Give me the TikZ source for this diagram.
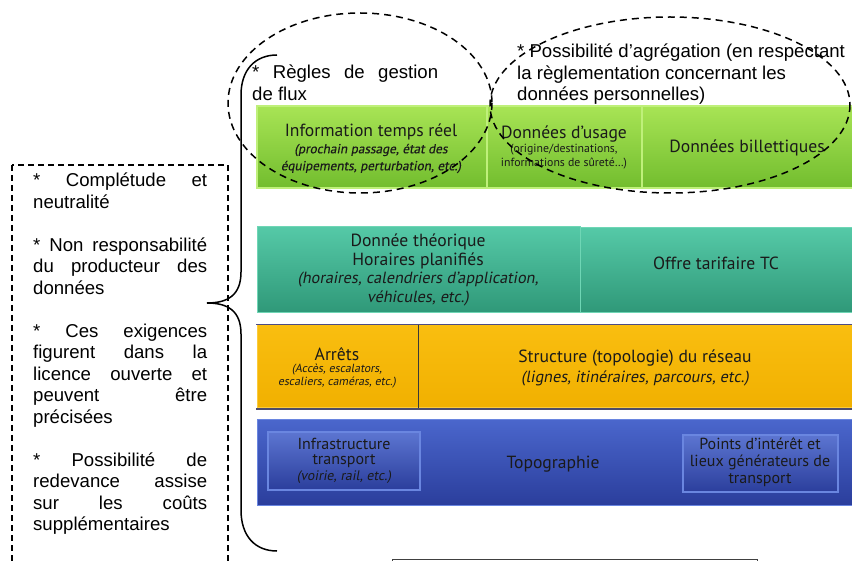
\documentclass[tikz,border=0pt]{standalone}
\usepackage{fontspec}
\setmainfont{Liberation Sans}
\newfontfamily\rowfont{PT Sans}
\newfontfamily\rowobl[FakeSlant=0.18]{PT Sans}
\newfontfamily\rowoblb[FakeSlant=0.18,FakeBold=0.4]{PT Sans}
\definecolor{grT}{HTML}{A8E455}
\definecolor{grB}{HTML}{72BD2E}
\definecolor{grE}{HTML}{BFF07A}
\definecolor{tlT}{HTML}{55C9A7}
\definecolor{tlB}{HTML}{2F9878}
\definecolor{tlE}{HTML}{6FD6B5}
\definecolor{orT}{HTML}{F9BE10}
\definecolor{orB}{HTML}{F1B000}
\definecolor{orE}{HTML}{FBCB3A}
\definecolor{blT}{HTML}{4A66CC}
\definecolor{blB}{HTML}{2B3E9C}
\definecolor{blE}{HTML}{6A86E0}
\definecolor{txt}{HTML}{1A1A1A}
\tikzset{
  dsh/.style={draw=black, line width=1.5pt, dash pattern=on 7pt off 5pt},
  brace/.style={draw=black, line width=1.5pt},
  lab/.style={inner sep=0pt, text=black, font=\fontsize{18.6}{21.5}\selectfont},
  rt/.style={inner sep=0pt, text=txt, font=\rowfont\fontsize{17.6}{19}\selectfont},
  rs/.style={inner sep=0pt, text=txt, font=\rowobl\fontsize{16.2}{16}\selectfont},
  rss/.style={inner sep=0pt, text=txt, font=\rowoblb\fontsize{13.2}{12}\selectfont},
  rsu/.style={inner sep=0pt, text=txt, font=\rowfont\fontsize{11.8}{12}\selectfont},
  bt/.style={inner sep=0pt, text=txt, font=\rowfont\fontsize{16}{17}\selectfont},
}
\newcommand{\jl}[1]{\makebox[174pt][s]{#1}}
\begin{document}
\begin{tikzpicture}[x=1pt,y=-1pt]
\useasboundingbox (0,0) rectangle (852,561);
\clip (0,0) rectangle (852,561);

% ---- green row
\shadedraw[top color=grT, bottom color=grB, draw=grE, line width=1.2pt] (257,106) rectangle (487,188);
\shadedraw[top color=grT, bottom color=grB, draw=grE, line width=1.2pt] (487,106) rectangle (642,188);
\shadedraw[top color=grT, bottom color=grB, draw=grE, line width=1.2pt] (642,106) rectangle (856,188);
\node[rt] (itr) at (371,132) {Information temps réel};
\node[rss] (itr1) at (371,150) {(prochain passage, état des};
\node[rss] (itr2) at (371,167) {équipements, perturbation, etc.)};
\node[rt] (du) at (564,134) {Données d’usage};
\node[rsu] (du1) at (564,150) {(origine/destinations,};
\node[rsu] (du2) at (564,163) {informations de sûreté…)};
\node[rt] (db) at (747,148) {Données billettiques};

% ---- teal row
\shadedraw[top color=tlT, bottom color=tlB, draw=tlE, line width=1pt] (257,227) rectangle (580,313);
\shadedraw[top color=tlT, bottom color=tlB, draw=tlE, line width=1pt] (580,228) rectangle (856,313);
\node[rt] (dt) at (418,242) {Donnée théorique};
\node[rt] (hp) at (418,261) {Horaires planifiés};
\node[rs] (hp1) at (418,280) {(horaires, calendriers d’application,};
\node[rs] (hp2) at (418,298) {véhicules, etc.)};
\node[rt] (otc) at (716,263) {Offre tarifaire TC};

% ---- orange row
\shadedraw[top color=orT, bottom color=orB, draw=orE, line width=1pt] (257,325) rectangle (418,408);
\shadedraw[top color=orT, bottom color=orB, draw=orE, line width=1pt] (418,325) rectangle (856,408);
\draw[draw=black!45!blue!40!gray, line width=0.8pt] (256,324.5) -- (856,324.5);
\draw[draw=black!55!gray, line width=0.8pt] (418,325) -- (418,408);
\draw[draw=black!70!blue!40!gray, line width=2pt] (256,409) -- (856,409);
\node[rt] (ar) at (337,354) {Arrêts};
\node[rs, font=\rowobl\fontsize{11.8}{12}\selectfont] (ar1) at (337,370) {(Accès, escalators,};
\node[rs, font=\rowobl\fontsize{11.8}{12}\selectfont] (ar2) at (337,383) {escaliers, caméras, etc.)};
\node[rt] (st) at (635,358) {Structure (topologie) du réseau};
\node[rs] (st1) at (635,378) {(lignes, itinéraires, parcours, etc.)};

% ---- blue row
\shadedraw[top color=blT, bottom color=blB, draw=blE, line width=1pt] (257,420) rectangle (856,505);
\shadedraw[top color=blT!90!white, bottom color=blB, draw=blE, line width=1.2pt] (268,432) rectangle (420,490);
\shadedraw[top color=blT!90!white, bottom color=blB, draw=blE, line width=1.2pt] (683,435) rectangle (838,492);
\node[bt] (inf) at (344,444) {Infrastructure};
\node[bt] (inf1) at (344,461) {transport};
\node[rs, font=\rowobl\fontsize{13.8}{12}\selectfont] (inf2) at (344,477) {(voirie, rail, etc.)};
\node[rt] (topo) at (553,464) {Topographie};
\node[bt] (pi) at (760,444) {Points d’intérêt et};
\node[bt] (pi1) at (760,462) {lieux générateurs de};
\node[bt] (pi2) at (760,480) {transport};

% ---- bottom box
\draw[draw=black!75, line width=1pt] (392,559.5) rectangle (757,600);

% ---- left dashed box and text
\draw[dsh, dash pattern=on 6pt off 4pt] (12,165) rectangle (228,600);
\node[lab, anchor=north west, align=left] (req) at (33,173) {%
\jl{* Complétude et}\\neutralité\\[21.5pt]%
\jl{* Non responsabilité}\\\jl{du producteur des}\\données\\[21.5pt]%
\jl{* Ces exigences}\\\jl{figurent dans la}\\\jl{licence ouverte et}\\\jl{peuvent être}\\précisées\\[21.5pt]%
\jl{* Possibilité de}\\\jl{redevance assise}\\\jl{sur les coûts}\\supplémentaires};

% ---- brace
\coordinate (bt) at (277,55);
\coordinate (bb) at (277,551);
\coordinate (tip) at (207,303);
\draw[brace] (bt) .. controls (255,55) and (241,70) .. (241,95)
  -- (241,272) .. controls (241,295) and (228,303) .. (tip)
  .. controls (228,303) and (241,311) .. (241,334)
  -- (241,510) .. controls (241,536) and (255,551) .. (bb);

% ---- top labels
\node[lab, anchor=north west, align=left] (rg) at (252,65) {\makebox[186pt][s]{* Règles de gestion}\\de flux};
\node[lab, anchor=north west, align=left] (pa) at (517,44) {* Possibilité d’agrégation (en respectant\\la règlementation concernant les\\données personnelles)};

% ---- dashed ellipses
\draw[dsh] (360,103) ellipse [x radius=132, y radius=90];
\draw[dsh] (670,105) ellipse [x radius=180, y radius=88];
\end{tikzpicture}
\end{document}
